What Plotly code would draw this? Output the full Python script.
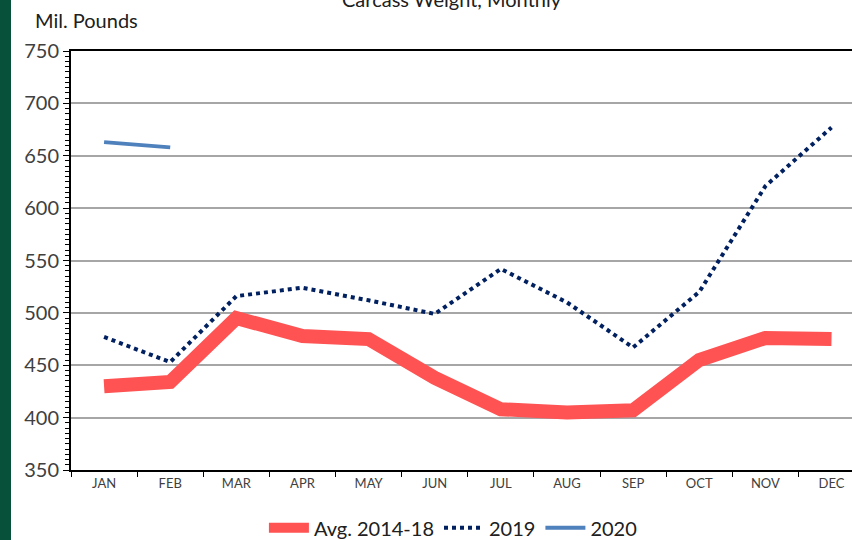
import plotly.graph_objects as go

months = ["JAN", "FEB", "MAR", "APR", "MAY", "JUN", "JUL", "AUG", "SEP", "OCT", "NOV", "DEC"]
avg_2014_18 = [430, 434, 495, 478, 475, 438, 408, 405, 407, 455, 476, 475]
y2019 = [477, 453, 516, 524, 512, 499, 542, 510, 467, 520, 621, 677]
y2020 = [663, 658]

fig = go.Figure()
fig.add_trace(go.Scatter(x=months, y=avg_2014_18, mode="lines", name="Avg. 2014-18",
                         line=dict(color="#FF5252", width=14)))
fig.add_trace(go.Scatter(x=months, y=y2019, mode="lines", name="2019",
                         line=dict(color="#002060", width=4, dash="dot")))
fig.add_trace(go.Scatter(x=months[:len(y2020)], y=y2020, mode="lines", name="2020",
                         line=dict(color="#4F81BD", width=4)))

font_family = "Lato, 'Open Sans', sans-serif"
fig.update_layout(
    width=852, height=540,
    margin=dict(l=71, r=0, t=51, b=70, autoexpand=False),
    paper_bgcolor="white", plot_bgcolor="white",
    font=dict(family=font_family, color="#404040"),
    showlegend=True,
    legend=dict(orientation="h", x=0.489, xanchor="center", y=-0.138, yanchor="middle",
                font=dict(size=20, color="#202020"), itemwidth=40, traceorder="normal",
                bgcolor="rgba(0,0,0,0)"),
    xaxis=dict(
        type="category", range=[-0.5, 11.31], automargin=False,
        showline=True, linecolor="black", linewidth=2, mirror=True,
        ticks="outside", ticklen=5, tickcolor="black", tickwidth=1,
        tickson="boundaries", showgrid=False,
        tickfont=dict(size=13, color="#404040"),
    ),
    yaxis=dict(
        range=[350, 750], dtick=50, tick0=350, automargin=False,
        showline=True, linecolor="black", linewidth=2,
        ticks="outside", ticklen=6, tickcolor="black", tickwidth=1,
        showgrid=True, gridcolor="#A6A6A6", gridwidth=1.5,
        zeroline=False,
        tickfont=dict(size=20, color="#404040"),
        minor=dict(dtick=5, ticks="outside", ticklen=4, tickcolor="black", tickwidth=1, showgrid=False),
    ),
    shapes=[dict(type="rect", xref="paper", yref="paper", x0=-71/781, x1=-60/781,
                 y0=-70/419, y1=(419+51)/419, fillcolor="#07513A", line=dict(width=0), layer="above")],
    annotations=[
        dict(text="Mil. Pounds", xref="paper", yref="paper", x=(33-71)/781, y=(470-20)/419,
             xanchor="left", yanchor="middle", showarrow=False,
             font=dict(size=20, color="#202020")),
        dict(text="Carcass Weight, Monthly", xref="paper", yref="paper", x=(452-71)/781, y=(470-13)/419,
             xanchor="center", yanchor="bottom", showarrow=False,
             font=dict(size=20, color="#202020")),
    ],
)

fig.write_html("out.html", config={"displayModeBar": False},
               post_script="document.body.style.margin='0';")
